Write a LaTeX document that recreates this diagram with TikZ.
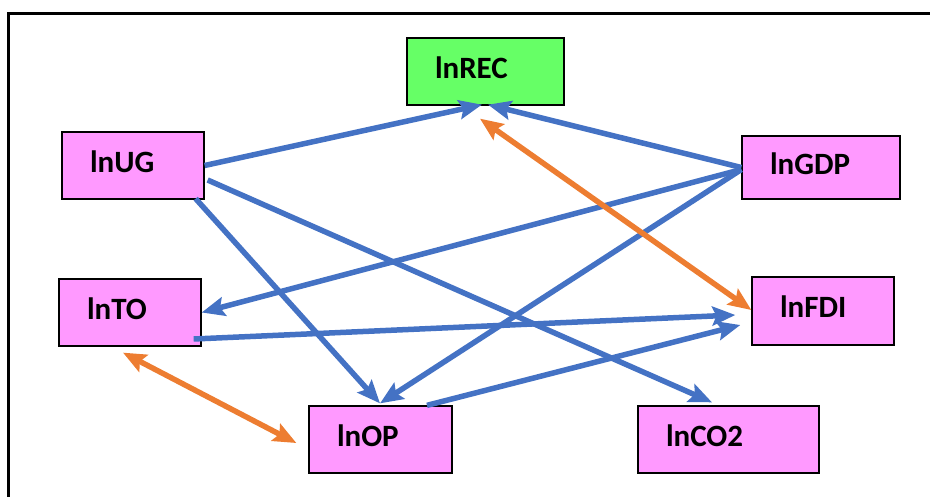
\documentclass[tikz,border=0pt]{standalone}
\usepackage{fontspec}
\setmainfont{Carlito}
\usetikzlibrary{arrows.meta,calc}
\definecolor{myblue}{HTML}{4472C4}
\definecolor{myorange}{HTML}{ED7D31}
\definecolor{mypink}{HTML}{FF99FF}
\definecolor{mygreen}{HTML}{66FF66}
\begin{document}
\begin{tikzpicture}[x=1pt,y=-1pt,
  vbox/.style={draw=black, line width=1.3pt, inner xsep=28pt, inner ysep=0pt,
    text height=21pt, text depth=8pt, align=left, minimum height=67pt,
    font=\fontsize{31}{31}\selectfont\bfseries},
  pinkbox/.style={vbox, fill=mypink},
  barrow/.style={draw=myblue, line width=5.5pt, -{Stealth[length=23pt,width=19pt,inset=4pt]}},
  oarrow/.style={draw=myorange, line width=5.5pt, {Stealth[length=23pt,width=19pt,inset=4pt]}-{Stealth[length=23pt,width=19pt,inset=4pt]}}
]
\useasboundingbox (0,0) rectangle (930,496);
\draw[line width=3.5pt] (8.5,520) -- (8.5,13.5) -- (950,13.5);

\node[vbox, fill=mygreen, text width=101pt] (rec) at (485.5,71.5) {lnREC};
\node[pinkbox, text width=86pt] (ug) at (133,165.5) {lnUG};
\node[pinkbox, text width=102pt, minimum height=63pt] (gdp) at (821,167.5) {lnGDP};
\node[pinkbox, text width=86pt] (to) at (130,312.5) {lnTO};
\node[pinkbox, text width=87pt] (op) at (380.5,439.5) {lnOP};
\node[pinkbox, text width=86pt, minimum height=68pt] (fdi) at (823,311) {lnFDI};
\node[pinkbox, text width=125pt] (co2) at (728.5,439.5) {lnCO2};

\draw[barrow] (ug.east) -- ($(rec.south)+(-3.5,-1)$);
\draw[barrow] (gdp.west) -- ($(rec.south)+(2.5,-1)$);
\draw[barrow] ($(gdp.west)+(0,2)$) -- (to.east);
\draw[barrow] ($(gdp.west)+(0,2)$) -- ($(op.north)+(-0.5,-2)$);
\draw[barrow] ($(ug.south east)+(-9,-1)$) -- ($(op.north)+(-0.5,-2)$);
\draw[barrow] ($(ug.east)+(3,14.5)$) -- ($(co2.north)+(-16.5,-3)$);
\draw[barrow] ($(to.east)+(-8,26.5)$) -- ($(fdi.west)+(-16,4)$);
\draw[barrow] ($(op.north)+(46.5,0)$) -- ($(fdi.west)+(-11,14)$);
\draw[oarrow] ($(rec.south)+(-5.5,13)$) -- ($(fdi.west)+(0,-1)$);
\draw[oarrow] ($(to.south)+(-7,6)$) -- ($(op.west)+(-12,3.5)$);
\end{tikzpicture}
\end{document}
